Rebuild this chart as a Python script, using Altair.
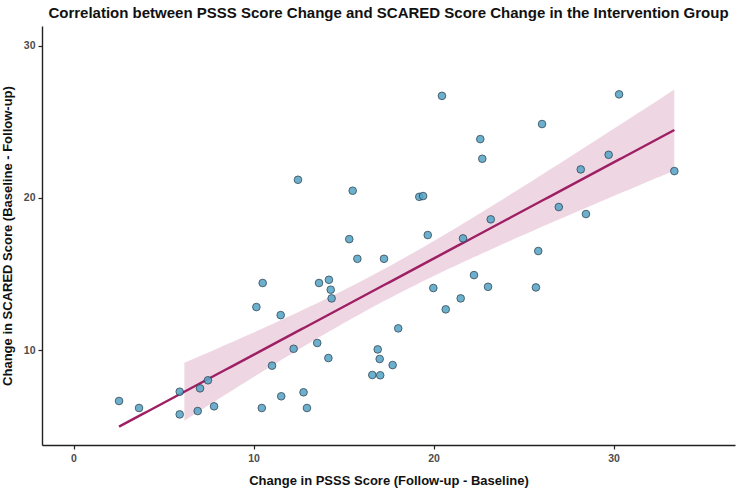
import altair as alt
import numpy as np
import pandas as pd

# Change in PSSS score (x) and change in SCARED score (y), intervention group
psss_change = [2.53, 3.64, 5.90, 5.90, 6.90, 7.03, 7.47, 7.81, 10.16, 10.51,
               10.46, 11.03, 11.51, 11.54, 12.23, 12.47, 12.78, 12.97, 13.54, 13.64,
               14.16, 14.19, 14.29, 14.34, 15.32, 15.51, 15.77, 16.60, 16.90, 17.01,
               17.04, 17.25, 17.73, 18.04, 19.21, 19.42, 19.68, 19.99, 20.47, 20.68,
               21.51, 21.64, 22.25, 22.60, 22.71, 23.03, 23.18, 25.69, 25.82, 26.03,
               26.96, 28.18, 28.47, 29.73, 30.31, 33.38]
scared_change = [6.66, 6.20, 7.27, 5.78, 6.00, 7.49, 8.02, 6.31, 12.83, 14.41,
                 6.20, 8.98, 12.30, 6.97, 10.09, 21.19, 7.23, 6.20, 10.47, 14.41,
                 9.48, 14.62, 13.97, 13.40, 17.29, 20.47, 16.00, 8.37, 10.05, 9.42,
                 8.35, 16.00, 9.02, 11.43, 20.07, 20.12, 17.56, 14.08, 26.70, 12.68,
                 13.40, 17.34, 14.93, 23.86, 22.57, 14.16, 18.59, 14.12, 16.51, 24.85,
                 19.40, 21.87, 18.94, 22.83, 26.80, 21.76]

x_ticks = [0, 10, 20, 30]
y_ticks = [10, 20, 30]
x_domain = [-1.75, 36.75]
y_domain = [3.77, 31.29]
band_start = [6.0]  # the shaded band in the source starts here

# linear fit with 95% confidence band (computed from the data)
xs = np.array(psss_change)
ys = np.array(scared_change)
n = len(xs)
b1, b0 = np.polyfit(xs, ys, 1)
resid = ys - (b0 + b1 * xs)
s = np.sqrt(np.sum(resid ** 2) / (n - 2))
sxx = np.sum((xs - xs.mean()) ** 2)
t_crit = 2.005

grid = np.linspace(xs.min(), xs.max(), 120)
fit = b0 + b1 * grid
se = s * np.sqrt(1.0 / n + (grid - xs.mean()) ** 2 / sxx)
fit_df = pd.DataFrame({"x": grid, "fit": fit, "lo": fit - t_crit * se, "hi": fit + t_crit * se})
band_df = fit_df[fit_df["x"] >= band_start[0]]

pts = pd.DataFrame({"x": psss_change, "y": scared_change})

FONT = "Liberation Sans"
xscale = alt.Scale(domain=x_domain, nice=False, zero=False)
yscale = alt.Scale(domain=y_domain, nice=False, zero=False)

xaxis = alt.Axis(values=x_ticks, title="Change in PSSS Score (Follow-up - Baseline)")
yaxis = alt.Axis(values=y_ticks, title="Change in SCARED Score (Baseline - Follow-up)")

band = alt.Chart(band_df).mark_area(color="#9e1f63", opacity=0.18).encode(
    x=alt.X("x:Q", scale=xscale, axis=xaxis),
    y=alt.Y("lo:Q", scale=yscale, axis=yaxis),
    y2="hi:Q",
)

line = alt.Chart(fit_df).mark_line(color="#9e1f63", strokeWidth=2.4).encode(
    x=alt.X("x:Q", scale=xscale),
    y=alt.Y("fit:Q", scale=yscale),
)

points = alt.Chart(pts).mark_point(
    shape="circle", filled=True, fill="#58a6c8", stroke="#24404f",
    strokeWidth=0.9, size=58, opacity=0.88,
).encode(
    x=alt.X("x:Q", scale=xscale),
    y=alt.Y("y:Q", scale=yscale),
)

chart = (band + line + points).properties(
    width=693, height=419,
    title=alt.TitleParams(
        "Correlation between PSSS Score Change and SCARED Score Change in the Intervention Group",
        font=FONT, fontSize=15, fontWeight="bold", color="#111111",
        anchor="middle", offset=5,
    ),
    autosize=alt.AutoSizeParams(type="none"),
    padding={"left": 42, "top": 26, "right": 3, "bottom": 45},
).configure_view(stroke=None).configure_axis(
    grid=False,
    domainColor="#222222", domainWidth=1.4,
    tickColor="#222222", tickWidth=1.2, tickSize=4,
    labelFont=FONT, labelFontSize=10.5, labelFontWeight="bold", labelColor="#4d4d4d",
    labelPadding=3,
    titleFont=FONT, titleFontSize=13, titleFontWeight="bold", titleColor="#111111",
).configure_axisX(titlePadding=11, labelPadding=4).configure_axisY(titlePadding=9)

chart.save("out.html", embed_options={"renderer": "svg", "actions": False})
